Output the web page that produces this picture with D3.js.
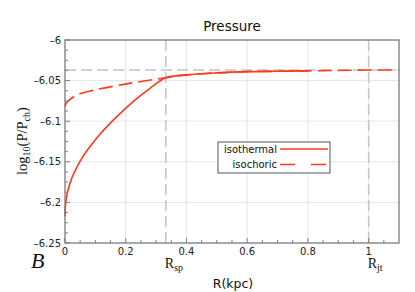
<!DOCTYPE html>
<html><head><meta charset="utf-8">
<script src="https://cdn.jsdelivr.net/npm/d3@7"></script>
<style>body{margin:0;background:#fff}svg{display:block}</style>
</head><body>
<svg id="c" width="415" height="292"></svg>
<script>
const title = "Pressure";
const xTicks = [0, 0.2, 0.4, 0.6, 0.8, 1];
const yTicks = [-6.25, -6.2, -6.15, -6.1, -6.05, -6];
const isoThermX = [0, 0.001, 0.003, 0.008, 0.016, 0.027, 0.04, 0.06, 0.085, 0.115, 0.15, 0.19, 0.235, 0.28, 0.332, 0.4, 0.5, 0.6, 0.7, 0.8];
const isoThermY = [-6.217, -6.207, -6.1985, -6.188, -6.177, -6.166, -6.156, -6.143, -6.130, -6.116, -6.102, -6.0875, -6.0725, -6.0595, -6.0465, -6.043, -6.0405, -6.039, -6.0385, -6.038];
const isoChorX = [0, 0.004, 0.011, 0.038, 0.093, 0.203, 0.332, 0.4, 0.5, 0.6, 0.7, 0.8, 0.9, 1.0, 1.1];
const isoChorY = [-6.082, -6.078, -6.075, -6.068, -6.062, -6.054, -6.0465, -6.043, -6.0405, -6.039, -6.0385, -6.038, -6.0375, -6.037, -6.037];
const refY = -6.037;
const refX = [0.332, 1.0];
const refXLabels = [["R", "sp"], ["R", "jt"]];
const legendNames = ["isothermal", "isochoric"];

const svg = d3.select("#c");
const m = {l: 65, r: 399, t: 40, b: 243};
const x = d3.scaleLinear().domain([0, 1.1]).range([m.l, m.r]);
const y = d3.scaleLinear().domain([-6.25, -6]).range([m.b, m.t]);
const red = "#ff3a1c", gray = "#c4c4c4";
const fmt = v => (v < 0 ? "\u2013" : "") + String(Math.abs(v));

// grid
svg.append("g").selectAll("line").data(xTicks.filter(d => d > 0)).join("line")
  .attr("x1", d => x(d)).attr("x2", d => x(d)).attr("y1", m.t).attr("y2", m.b)
  .attr("stroke", "#e6e6e6").attr("stroke-width", 1);
svg.append("g").selectAll("line").data(yTicks.filter(d => d > -6.25 && d < -6)).join("line")
  .attr("y1", d => y(d)).attr("y2", d => y(d)).attr("x1", m.l).attr("x2", m.r)
  .attr("stroke", "#e6e6e6").attr("stroke-width", 1);

// reference dashed lines
svg.append("line").attr("x1", m.l).attr("x2", m.r).attr("y1", y(refY)).attr("y2", y(refY))
  .attr("stroke", gray).attr("stroke-width", 1.5).attr("stroke-dasharray", "11,5");
svg.append("g").selectAll("line").data(refX).join("line")
  .attr("x1", d => x(d)).attr("x2", d => x(d)).attr("y1", m.t).attr("y2", m.b)
  .attr("stroke", gray).attr("stroke-width", 1.5).attr("stroke-dasharray", "11,5");

// curves
const line = d3.line().x(d => x(d[0])).y(d => y(d[1])).curve(d3.curveCatmullRom.alpha(0.5));
svg.append("path").datum(isoChorX.map((v, i) => [v, isoChorY[i]]))
  .attr("d", line).attr("fill", "none").attr("stroke", red).attr("stroke-width", 1.6)
  .attr("stroke-dasharray", "14,6");
svg.append("path").datum(isoThermX.map((v, i) => [v, isoThermY[i]]))
  .attr("d", line).attr("fill", "none").attr("stroke", red).attr("stroke-width", 1.6);

// axes ticks (inside)
const gx = svg.append("g").attr("transform", `translate(0,${m.b})`);
gx.selectAll("line").data(d3.range(0, 22).map(i => i * 0.05)).join("line")
  .attr("x1", d => x(d)).attr("x2", d => x(d)).attr("y1", 0)
  .attr("y2", (d, i) => i % 4 === 0 ? -5 : -3).attr("stroke", "#808080").attr("stroke-width", 1);
const gy = svg.append("g").attr("transform", `translate(${m.l},0)`);
gy.selectAll("line").data(d3.range(0, 21).map(i => -6.25 + i * 0.0125)).join("line")
  .attr("y1", d => y(d)).attr("y2", d => y(d)).attr("x1", 0)
  .attr("x2", (d, i) => i % 4 === 0 ? 5 : 3).attr("stroke", "#808080").attr("stroke-width", 1);

// frame
svg.append("rect").attr("x", m.l).attr("y", m.t).attr("width", m.r - m.l).attr("height", m.b - m.t)
  .attr("fill", "none").attr("stroke", "#7a7a7a").attr("stroke-width", 1.3);

// tick labels
svg.append("g").selectAll("text").data(xTicks).join("text")
  .attr("x", d => x(d)).attr("y", 255).attr("text-anchor", "middle")
  .attr("font-family", "DejaVu Sans").attr("font-size", 10).attr("fill", "#222")
  .text(d => fmt(d));
svg.append("g").selectAll("text").data(yTicks).join("text")
  .attr("x", 61).attr("y", d => y(d) + 3.5).attr("text-anchor", "end")
  .attr("font-family", "DejaVu Sans").attr("font-size", 10).attr("fill", "#222")
  .text(d => fmt(d));

// R labels
refX.forEach((v, i) => {
  const t = svg.append("text").attr("x", x(v) - 1).attr("y", 268)
    .attr("font-family", "Liberation Serif").attr("font-size", 14).attr("fill", "#111");
  t.append("tspan").text(refXLabels[i][0]);
  t.append("tspan").attr("font-size", 10).attr("dy", 3).text(refXLabels[i][1]);
});

// title and axis labels
svg.append("text").attr("x", 232).attr("y", 31).attr("text-anchor", "middle")
  .attr("font-family", "DejaVu Sans").attr("font-size", 13.5).attr("fill", "#111").text(title);
svg.append("text").attr("x", 233).attr("y", 288).attr("text-anchor", "middle")
  .attr("font-family", "DejaVu Sans").attr("font-size", 12.5).attr("fill", "#111").text("R(kpc)");
const yl = svg.append("text").attr("transform", "translate(27,141) rotate(-90)")
  .attr("text-anchor", "middle").attr("font-family", "Liberation Serif").attr("font-size", 14.5).attr("fill", "#111");
yl.append("tspan").text("log");
yl.append("tspan").attr("font-size", 10).attr("dy", 3).text("10");
yl.append("tspan").attr("dy", -3).text("(P/P");
yl.append("tspan").attr("font-size", 10).attr("dy", 3).text("ch");
yl.append("tspan").attr("dy", -3).text(")");
svg.append("text").attr("x", 31).attr("y", 268).attr("font-family", "Liberation Serif")
  .attr("font-style", "italic").attr("font-size", 22).attr("fill", "#111").text("B");

// legend
const lg = svg.append("g");
lg.append("rect").attr("x", 218).attr("y", 142).attr("width", 112).attr("height", 31)
  .attr("fill", "#fff").attr("stroke", "#555").attr("stroke-width", 1);
legendNames.forEach((n, i) => {
  const yy = 149 + i * 15.5;
  lg.append("text").attr("x", 277).attr("y", yy + 3.5).attr("text-anchor", "end")
    .attr("font-family", "DejaVu Sans").attr("font-size", 10).attr("fill", "#111").text(n);
  lg.append("line").attr("x1", 280).attr("x2", 328).attr("y1", yy).attr("y2", yy)
    .attr("stroke", red).attr("stroke-width", 1.6)
    .attr("stroke-dasharray", i === 1 ? "15,16" : null);
});
</script>
</body></html>
